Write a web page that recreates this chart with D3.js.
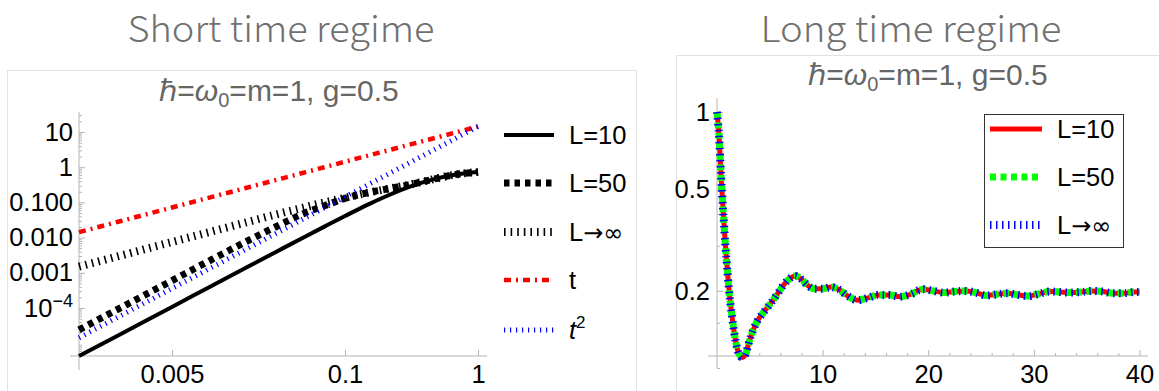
<!DOCTYPE html>
<html><head><meta charset="utf-8">
<script src="https://cdn.jsdelivr.net/npm/d3@7"></script>
<style>body{margin:0;background:#fff}svg{display:block}</style>
</head><body><svg id="c" width="1159" height="391"></svg>
<script>
// ---------------- data ----------------
const shortT   = [0.001,0.002,0.005,0.01,0.02,0.03,0.05,0.07,0.1,0.15,0.2,0.3,0.4,0.5,0.7,1.0];
const shortL10 = [4.3e-6,1.72e-5,1.07e-4,4.3e-4,1.72e-3,3.85e-3,0.0106,0.0205,0.041,0.088,0.145,0.27,0.39,0.49,0.63,0.73];
const shortL50 = [2.4e-5,9.6e-5,6.0e-4,2.4e-3,9.4e-3,0.02,0.05,0.08,0.13,0.19,0.235,0.315,0.40,0.49,0.63,0.73];
const shortLinf= [1.5e-3,3.0e-3,7.5e-3,0.015,0.030,0.045,0.073,0.10,0.135,0.19,0.235,0.315,0.40,0.49,0.63,0.73];
const shortLin = [0.0143,0.0286,0.0715,0.143,0.286,0.429,0.715,1.0,1.43,2.15,2.86,4.29,5.72,7.15,10.0,14.3];
const shortQuad= [1.43e-5,5.72e-5,3.58e-4,1.43e-3,5.72e-3,0.0129,0.0358,0.070,0.143,0.322,0.572,1.29,2.29,3.58,7.0,14.3];
const shortLegend = ["L=10","L=50","L\u2192\u221e","t","t2"];
const shortYTicks = [10,1,0.1,0.01,0.001,1e-4];
const shortYLabels = ["10","1","0.100","0.010","0.001","10^-4"];
const shortXTicks = [0.005,0.1,1];
const shortXLabels = ["0.005","0.1","1"];

const longT = [0,0.2,0.4,0.6,0.8,1.0,1.2,1.5,1.8,2.1,2.4,2.7,3.0,3.4,3.8,4.3,4.8,5.3,5.8,6.3,6.8,7.4,8.0,8.6,9.2,10,10.8,11.5,12.3,13.3,14.3,15.3,16.3,17.3,18.3,19.5,20.5,21.5,22.5,23.5,24.5,25.5,26.5,27.5,28.5,29.5,30.5,31.5,32.5,33.5,34.5,35.5,36.5,37.5,38.5,39.5,40];
const longVal = [1.0,0.80,0.55,0.40,0.30,0.235,0.19,0.15,0.125,0.113,0.11,0.113,0.125,0.14,0.152,0.163,0.173,0.184,0.197,0.211,0.222,0.229,0.222,0.21,0.204,0.204,0.207,0.203,0.192,0.184,0.188,0.193,0.193,0.19,0.194,0.203,0.2,0.197,0.199,0.2,0.197,0.192,0.194,0.196,0.193,0.191,0.195,0.199,0.198,0.197,0.198,0.2,0.199,0.196,0.196,0.198,0.198];
const longLegend = ["L=10","L=50","L\u2192\u221e"];
const longYTicks = [1,0.5,0.2];
const longYLabels = ["1","0.5","0.2"];
const longYMinor = [0.1,0.15,0.3,0.4,0.6,0.7,0.8,0.9];
const longXTicks = [10,20,30,40];
const longXMinor = [2,4,6,8,12,14,16,18,22,24,26,28,32,34,36,38];

// ---------------- layout ----------------
const svg = d3.select("#c");
const FONT = "'Liberation Sans', Arial, sans-serif";
const SYM = "'DejaVu Sans', sans-serif";
const AX = "#b4b4b4";
svg.append("rect").attr("width",1159).attr("height",391).attr("fill","#fff");

// frames
svg.append("rect").attr("x",7.5).attr("y",70.5).attr("width",629).attr("height",340)
  .attr("fill","none").attr("stroke","#e2e2e2");
svg.append("rect").attr("x",676.5).attr("y",55.5).attr("width",500).attr("height",360)
  .attr("fill","none").attr("stroke","#e2e2e2");

// big titles
function bigTitle(txt,cx,len){
  svg.append("text").attr("x",cx).attr("y",42).attr("text-anchor","middle")
    .attr("font-family","'Noto Sans CJK JP','Noto Sans',sans-serif").attr("font-weight",300)
    .attr("font-size",36).attr("fill","#707070")
    .attr("textLength",len).attr("lengthAdjust","spacingAndGlyphs").text(txt);
}
bigTitle("Short time regime",281,307);
bigTitle("Long time regime",911,301);

function innerTitle(cx,base){
  const t = svg.append("text").attr("x",cx).attr("y",base).attr("text-anchor","middle")
    .attr("font-family",FONT).attr("font-size",30).attr("fill","#666");
  t.append("tspan").text("\u210f=");
  t.append("tspan").attr("font-style","italic").text("\u03c9");
  t.append("tspan").attr("font-size",20).attr("dy",6).text("0");
  t.append("tspan").attr("dy",-6).text("=m=1, g=0.5");
}
innerTitle(279,101);
innerTitle(928,85);

function legendText(t, lab){
  if (lab.includes("\u2192")){
    const [a,b] = lab.split("\u2192");
    t.append("tspan").text(a);
    t.append("tspan").attr("font-family",SYM).attr("font-size",24).text("\u2192"+b);
  } else t.text(lab);
}

// ---------------- left panel ----------------
const xS = d3.scaleLog().domain([0.001,1]).range([79,478]);
const yS = d3.scaleLog().domain([1e-5,10]).range([343.2,132]);
const yAxisPosL = 4.33e-6;

const gL = svg.append("g");
gL.append("line").attr("x1",79).attr("x2",79).attr("y1",112).attr("y2",370).attr("stroke",AX);
gL.append("line").attr("x1",70).attr("x2",487).attr("y1",yS(yAxisPosL)).attr("y2",yS(yAxisPosL)).attr("stroke",AX);

const yAxL = d3.axisLeft(yS).tickValues(shortYTicks).tickSizeInner(-6).tickSizeOuter(0).tickPadding(6)
  .tickFormat((d,i)=>shortYLabels[i]);
const gyL = gL.append("g").attr("transform","translate(79,0)").call(yAxL);
const minorL = [];
for (let e=-6;e<=1;e++) for (let m=2;m<=9;m++){ const v=m*Math.pow(10,e); if(v>yAxisPosL && v<37) minorL.push(v); }
gL.append("g").attr("transform","translate(79,0)")
  .call(d3.axisLeft(yS).tickValues(minorL).tickSizeInner(-3).tickSizeOuter(0).tickFormat(""));
gL.append("g").attr("transform",`translate(0,${yS(yAxisPosL)})`)
  .call(d3.axisBottom(xS).tickValues(shortXTicks).tickSizeInner(-6).tickSizeOuter(0).tickPadding(9)
    .tickFormat((d,i)=>shortXLabels[i]));

function styleAxis(g){
  g.select(".domain").remove();
  g.selectAll(".tick line").attr("stroke",AX);
  g.selectAll("text").attr("font-family",FONT).attr("font-size",25.5).attr("fill","#000");
}
gL.selectAll("g").each(function(){ styleAxis(d3.select(this)); });
gyL.selectAll(".tick text").each(function(d,i){
  const lab = shortYLabels[i];
  if (lab.includes("^")){
    const [b,p] = lab.split("^");
    const t = d3.select(this); t.text("");
    t.append("tspan").text(b);
    t.append("tspan").attr("font-size",18).attr("dy",-10).text(p.replace("-","\u2212"));
  }
});

const styles = [
  {stroke:"#000", w:4,   dash:null},
  {stroke:"#000", w:7,   dash:"5.5,5"},
  {stroke:"#000", w:8,   dash:"1.6,5"},
  {stroke:"#f00", w:4.5, dash:"7,5,2,5"},
  {stroke:"#00f", w:5,   dash:"1.2,4.8"}
];
const seriesL = [shortL10, shortL50, shortLinf, shortLin, shortQuad];
const lineL = d3.line().x(d=>xS(d[0])).y(d=>yS(d[1])).curve(d3.curveMonotoneX);
seriesL.forEach((s,i)=>{
  const st = styles[i];
  gL.append("path").datum(shortT.map((t,j)=>[t,s[j]])).attr("d",lineL)
    .attr("fill","none").attr("stroke",st.stroke).attr("stroke-width",st.w)
    .attr("stroke-dasharray",st.dash);
});
const legRowsL = [135,183,232,280,330];
shortLegend.forEach((lab,i)=>{
  const st = styles[i];
  gL.append("line").attr("x1",504).attr("x2",554).attr("y1",legRowsL[i]).attr("y2",legRowsL[i])
    .attr("stroke",st.stroke).attr("stroke-width",st.w).attr("stroke-dasharray",st.dash);
  const t = gL.append("text").attr("x",569).attr("y",legRowsL[i]+9).attr("font-family",FONT)
    .attr("font-size",25.5).attr("fill","#000");
  if (lab==="t2"){
    t.append("tspan").attr("font-style","italic").text("t");
    t.append("tspan").attr("font-size",17).attr("dy",-11).text("2");
  } else legendText(t,lab);
});

// ---------------- right panel ----------------
const xR = d3.scaleLinear().domain([0,40]).range([717,1139.5]);
const yR = d3.scaleLog().domain([0.1,1]).range([368,112]);
const yAxisPosR = 0.1114;
const gR = svg.append("g");
gR.append("line").attr("x1",717).attr("x2",717).attr("y1",98).attr("y2",368).attr("stroke",AX);
gR.append("line").attr("x1",708).attr("x2",1148).attr("y1",yR(yAxisPosR)).attr("y2",yR(yAxisPosR)).attr("stroke",AX);
gR.append("g").attr("transform","translate(717,0)")
  .call(d3.axisLeft(yR).tickValues(longYTicks).tickSizeInner(-6).tickSizeOuter(0).tickPadding(7)
    .tickFormat((d,i)=>longYLabels[i]));
gR.append("g").attr("transform","translate(717,0)")
  .call(d3.axisLeft(yR).tickValues(longYMinor).tickSizeInner(-3).tickSizeOuter(0).tickFormat(""));
gR.append("g").attr("transform",`translate(0,${yR(yAxisPosR)})`)
  .call(d3.axisBottom(xR).tickValues(longXTicks).tickSizeInner(-6).tickSizeOuter(0).tickPadding(9).tickFormat(d3.format("d")));
gR.append("g").attr("transform",`translate(0,${yR(yAxisPosR)})`)
  .call(d3.axisBottom(xR).tickValues(longXMinor).tickSizeInner(-3).tickSizeOuter(0).tickFormat(""));
gR.selectAll("g").each(function(){ styleAxis(d3.select(this)); });

const stylesR = [
  {stroke:"#f00", w:5, dash:null},
  {stroke:"#0f0", w:7, dash:"6,4.5"},
  {stroke:"#00f", w:8, dash:"1.5,4.5"}
];
const lineR = d3.line().x(d=>xR(d[0])).y(d=>yR(d[1])).curve(d3.curveMonotoneX);
const longData = longT.map((t,j)=>[t,longVal[j]]);
stylesR.forEach(st=>{
  gR.append("path").datum(longData).attr("d",lineR).attr("fill","none")
    .attr("stroke",st.stroke).attr("stroke-width",st.w).attr("stroke-dasharray",st.dash);
});
gR.append("rect").attr("x",984.5).attr("y",114.5).attr("width",139).attr("height",133)
  .attr("fill","#fff").attr("stroke","#333");
const legRowsR = [129,177,225];
longLegend.forEach((lab,i)=>{
  const st = stylesR[i];
  gR.append("line").attr("x1",990).attr("x2",1042).attr("y1",legRowsR[i]).attr("y2",legRowsR[i])
    .attr("stroke",st.stroke).attr("stroke-width",st.w).attr("stroke-dasharray",st.dash);
  const t = gR.append("text").attr("x",1057).attr("y",legRowsR[i]+9).attr("font-family",FONT)
    .attr("font-size",25.5).attr("fill","#000");
  legendText(t,lab);
});
</script></body></html>
